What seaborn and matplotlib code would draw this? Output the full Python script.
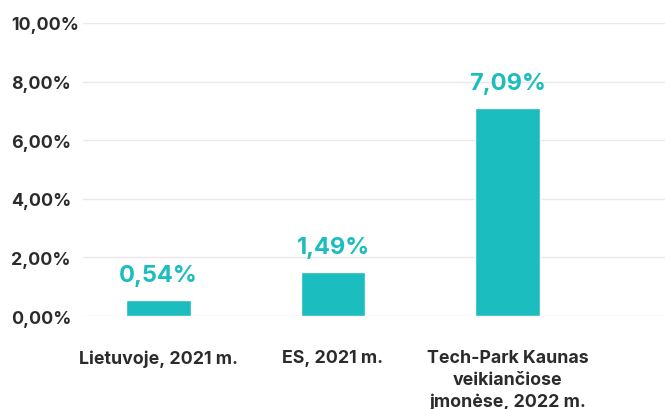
import matplotlib

matplotlib.use("Agg")
import matplotlib.pyplot as plt
import pandas as pd
import seaborn as sns
from matplotlib.ticker import FuncFormatter

categories = [
    "Lietuvoje, 2021 m.",
    "ES, 2021 m.",
    "Tech-Park Kaunas\nveikiančiose\njmonėse, 2022 m.",
]
values = [0.54, 1.49, 7.09]
y_ticks = [0, 2, 4, 6, 8, 10]

teal = "#1bbdbf"
text_dark = "#2b2b2b"

sns.set_theme(style="white")
plt.rcParams["font.family"] = ["Inter", "DejaVu Sans"]

df = pd.DataFrame({"category": categories, "value": values})

fig = plt.figure(figsize=(6.65, 4.10), dpi=100)
ax = fig.add_axes([0.125, 0.2268, 0.875, 0.7147])

sns.barplot(data=df, x="category", y="value", color=teal, saturation=1,
            width=0.37, ax=ax, zorder=3)

ax.set_ylim(0, 10)
ax.set_xlim(-0.43, 2.9)
ax.set_yticks(y_ticks)
ax.yaxis.set_major_formatter(FuncFormatter(lambda v, _: f"{v:.2f}%".replace(".", ",")))
ax.grid(axis="y", color="#ede6ea", linewidth=1, zorder=0)
ax.grid(axis="x", visible=False)
sns.despine(ax=ax, left=True, bottom=True, top=True, right=True)

# y labels are left aligned near the figure edge
ax.tick_params(axis="y", length=0, pad=52, labelsize=12.8, labelcolor=text_dark)
ax.tick_params(axis="x", length=0, pad=24, labelsize=12.8, labelcolor=text_dark)
for lbl in ax.get_yticklabels():
    lbl.set_fontweight("bold")
    lbl.set_horizontalalignment("left")
for lbl in ax.get_xticklabels():
    lbl.set_fontweight("bold")
    lbl.set_linespacing(1.35)

for container in ax.containers:
    ax.bar_label(container, labels=[f"{v:.2f}%".replace(".", ",") for v in values],
                 padding=10, color=teal, fontsize=17, fontweight="bold")

ax.set_xlabel("")
ax.set_ylabel("")

fig.savefig("out.png", dpi=100)
